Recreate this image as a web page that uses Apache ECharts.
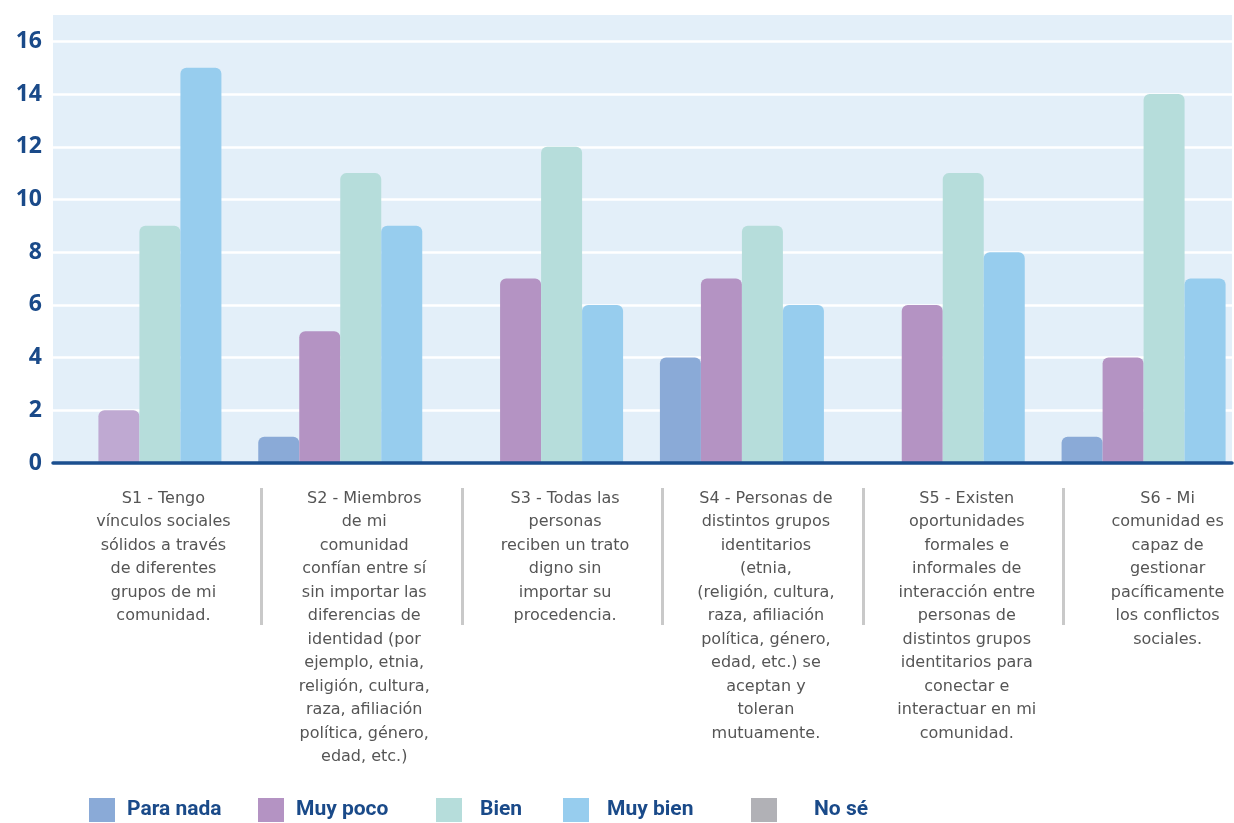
<!DOCTYPE html>
<html>
<head>
<meta charset="utf-8">
<script src="https://cdn.jsdelivr.net/npm/echarts@6/dist/echarts.min.js"></script>
<style>
  html, body { margin: 0; padding: 0; background: #fff; }
  #chart { width: 1234px; height: 823px; }
</style>
</head>
<body>
<div id="chart"></div>
<script>
// categorias (textos del eje x)
const categories = [
  'S1 - Tengo\nvínculos sociales\nsólidos a través\nde diferentes\ngrupos de mi\ncomunidad.',
  'S2 - Miembros\nde mi\ncomunidad\nconfían entre sí\nsin importar las\ndiferencias de\nidentidad (por\nejemplo, etnia,\nreligión, cultura,\nraza, afiliación\npolítica, género,\nedad, etc.)',
  'S3 - Todas las\npersonas\nreciben un trato\ndigno sin\nimportar su\nprocedencia.',
  'S4 - Personas de\ndistintos grupos\nidentitarios\n(etnia,\n(religión, cultura,\nraza, afiliación\npolítica, género,\nedad, etc.) se\naceptan y\ntoleran\nmutuamente.',
  'S5 - Existen\noportunidades\nformales e\ninformales de\ninteracción entre\npersonas de\ndistintos grupos\nidentitarios para\nconectar e\ninteractuar en mi\ncomunidad.',
  'S6 - Mi\ncomunidad es\ncapaz de\ngestionar\npacíficamente\nlos conflictos\nsociales.'
];

const paraNada = [0, 1, 0, 4, 0, 1];
const muyPoco  = [2, 5, 7, 7, 6, 4];
const bien     = [9, 11, 12, 9, 11, 14];
const muyBien  = [15, 9, 6, 6, 8, 7];
const noSe     = ['-', '-', '-', '-', '-', '-'];

const names  = ['Para nada', 'Muy poco', 'Bien', 'Muy bien', 'No sé'];
const colors = ['#8aaad7', '#b493c3', '#b6dddb', '#97cdee', '#b1b1b6'];

// posicion de cada elemento de la leyenda (x del cuadro, hueco hasta el texto)
const legendLeft = [84, 253, 431, 558, 746];
const legendTextGap = [7, 7, 13, 13, 32];

const chart = echarts.init(document.getElementById('chart'));

const barStyle = (c) => ({ color: c, borderRadius: [6, 6, 0, 0] });

const legends = names.map((n, i) => ({
  data: [n],
  left: legendLeft[i],
  top: 793,
  icon: 'rect',
  itemWidth: 26,
  itemHeight: 24,
  selectedMode: false,
  textStyle: {
    color: '#1a4a89',
    fontFamily: 'Roboto',
    fontWeight: 'bold',
    fontSize: 21,
    padding: [0, 0, 0, legendTextGap[i]]
  }
}));

const option = {
  backgroundColor: '#fff',
  animation: false,
  color: colors,
  legend: legends,
  grid: [
    // fondo + eje y
    { left: 53, top: 15, width: 1179, height: 448, show: true,
      backgroundColor: '#e3eff9', borderWidth: 0, outerBoundsMode: 'none' },
    // barras
    { left: 39, top: 15, width: 1205, height: 448, outerBoundsMode: 'none' },
    // separadores de los textos
    { left: 61, top: 488, width: 1203, height: 137, outerBoundsMode: 'none' }
  ],
  xAxis: [
    {
      gridIndex: 0, type: 'category', data: categories, z: 5,
      axisLine: { lineStyle: { color: '#1b4f8f', width: 3.5 } },
      axisTick: { show: false }, axisLabel: { show: false },
      splitLine: { show: false }
    },
    {
      gridIndex: 1, type: 'category', data: categories,
      axisLine: { show: false }, axisTick: { show: false },
      axisLabel: {
        interval: 0,
        margin: 24,
        color: '#555555',
        fontFamily: 'DejaVu Sans',
        fontSize: 16,
        lineHeight: 23.5,
        align: 'center',
        padding: [0, 0, 0, 48]
      }
    },
    {
      gridIndex: 2, type: 'category', data: categories,
      axisLine: { show: false }, axisTick: { show: false },
      axisLabel: { show: false },
      splitLine: { show: true, showMinLine: false, showMaxLine: false,
        lineStyle: { color: '#c9c9c9', width: 3 } }
    }
  ],
  yAxis: [
    {
      gridIndex: 0, type: 'value', min: 0, max: 17, interval: 2,
      axisLine: { show: false }, axisTick: { show: false },
      axisLabel: {
        showMaxLabel: false,
        margin: 11,
        color: '#1a4a89',
        fontFamily: 'Open Sans',
        fontWeight: 'bold',
        fontSize: 23
      },
      splitLine: { showMaxLine: false, lineStyle: { color: '#ffffff', width: 2.5 } }
    },
    { gridIndex: 1, type: 'value', min: 0, max: 17, show: false, splitLine: { show: false } },
    { gridIndex: 2, type: 'value', show: false, splitLine: { show: false } }
  ],
  series: [
    { name: names[0], type: 'bar', xAxisIndex: 1, yAxisIndex: 1, barWidth: 41, barGap: '0%',
      itemStyle: barStyle(colors[0]), data: paraNada },
    { name: names[1], type: 'bar', xAxisIndex: 1, yAxisIndex: 1, barWidth: 41, barGap: '0%',
      itemStyle: barStyle(colors[1]),
      data: muyPoco.map((v, i) => i === 0 ? { value: v, itemStyle: { color: '#bfa9d2' } } : v) },
    { name: names[2], type: 'bar', xAxisIndex: 1, yAxisIndex: 1, barWidth: 41, barGap: '0%',
      itemStyle: barStyle(colors[2]), data: bien },
    { name: names[3], type: 'bar', xAxisIndex: 1, yAxisIndex: 1, barWidth: 41, barGap: '0%',
      stack: 'mb', itemStyle: barStyle(colors[3]), data: muyBien },
    { name: names[4], type: 'bar', xAxisIndex: 1, yAxisIndex: 1, barWidth: 41, barGap: '0%',
      stack: 'mb', itemStyle: barStyle(colors[4]), data: noSe }
  ]
};

chart.setOption(option);
</script>
</body>
</html>
